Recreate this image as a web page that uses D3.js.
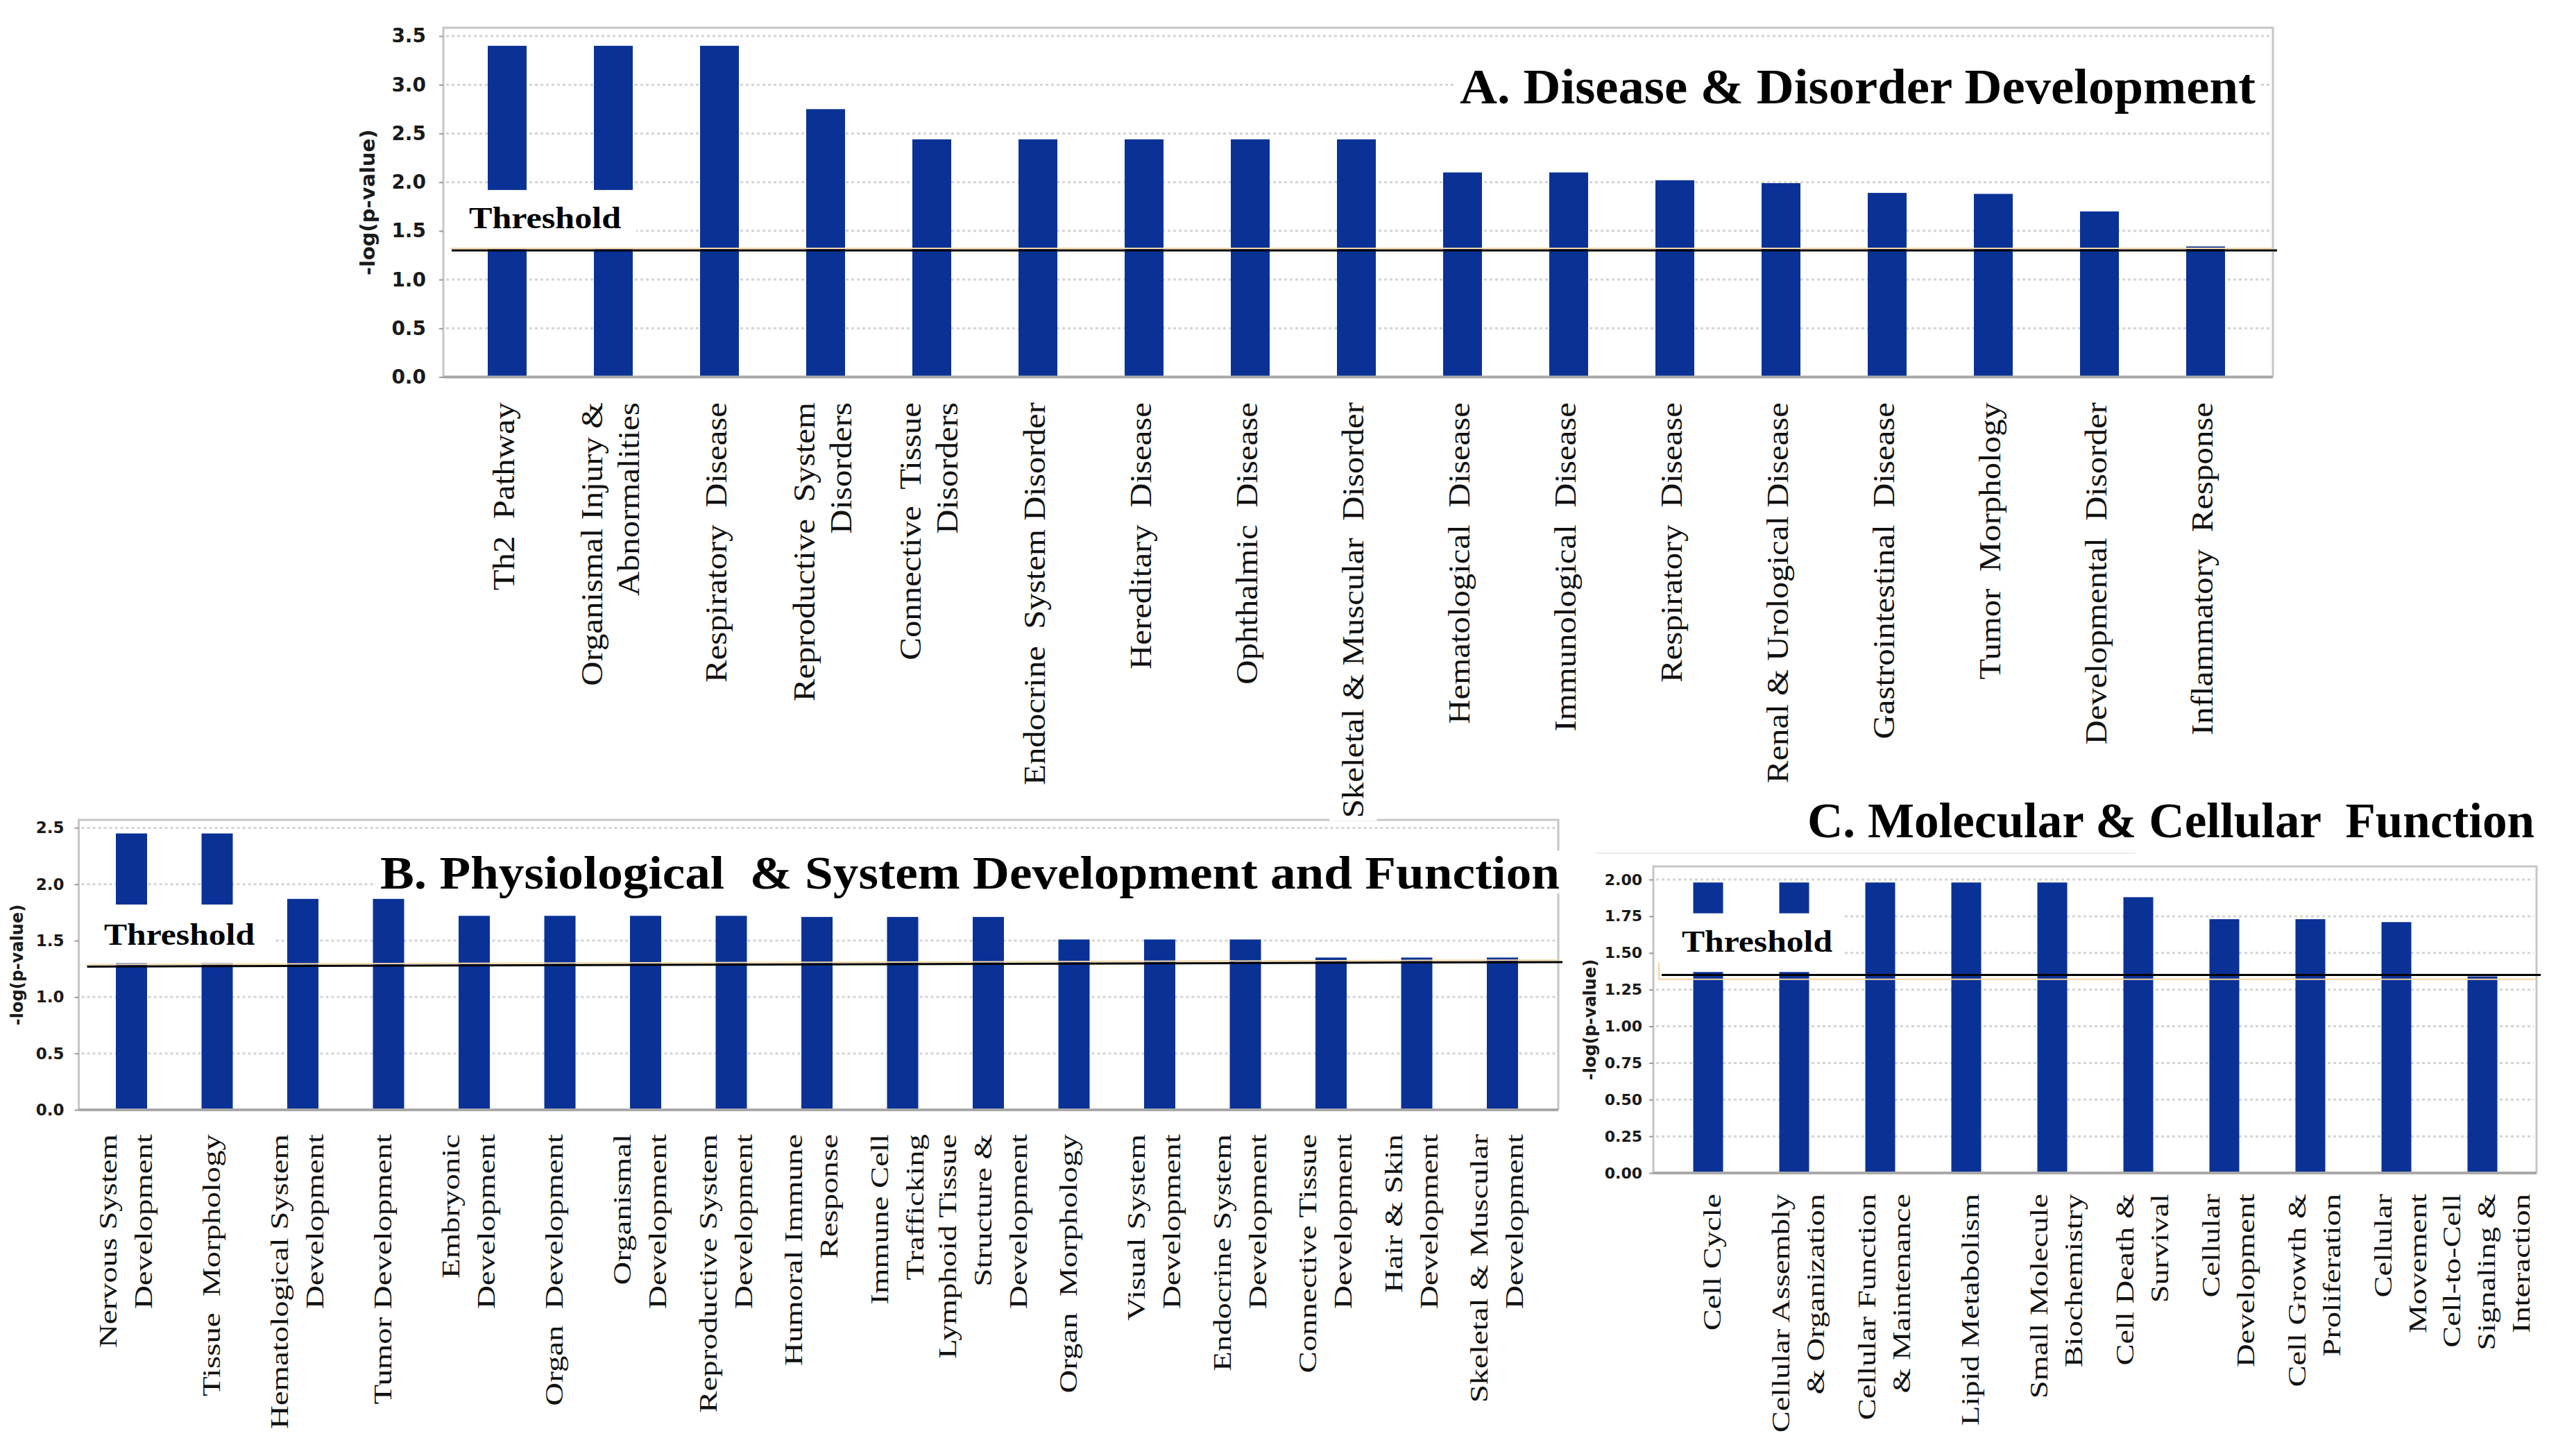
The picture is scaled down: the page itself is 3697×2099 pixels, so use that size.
<!DOCTYPE html>
<html>
<head>
<meta charset="utf-8">
<script src="https://cdn.jsdelivr.net/npm/d3@7"></script>
<style>
  body { margin: 0; background: #fff; }
</style>
</head>
<body>
<svg id="chart"></svg>
<script>
// A. Disease & Disorder Development
const catsA = [
  ['Th2  Pathway'], ['Organismal Injury &', 'Abnormalities'], ['Respiratory  Disease'],
  ['Reproductive  System', 'Disorders'], ['Connective  Tissue', 'Disorders'], ['Endocrine  System Disorder'],
  ['Hereditary  Disease'], ['Ophthalmic  Disease'], ['Skeletal & Muscular  Disorder'],
  ['Hematological  Disease'], ['Immunological  Disease'], ['Respiratory  Disease'],
  ['Renal & Urological Disease'], ['Gastrointestinal  Disease'], ['Tumor  Morphology'],
  ['Developmental  Disorder'], ['Inflammatory  Response']
]
const valsA = [3.40, 3.40, 3.40, 2.75, 2.44, 2.44, 2.44, 2.44, 2.44, 2.10, 2.10, 2.02, 1.99, 1.89, 1.88, 1.70, 1.34]
const ticksA = [0, 0.5, 1.0, 1.5, 2.0, 2.5, 3.0, 3.5]
const thrA = [1.30, 1.30]
const boxA = [1.31, 1.92]

// B. Physiological & System Development and Function
const catsB = [
  ['Nervous System', 'Development'], ['Tissue  Morphology'], ['Hematological System', 'Development'],
  ['Tumor Development'], ['Embryonic', 'Development'], ['Organ  Development'],
  ['Organismal', 'Development'], ['Reproductive System', 'Development'], ['Humoral Immune', 'Response'],
  ['Immune Cell', 'Trafficking'], ['Lymphoid Tissue', 'Structure &', 'Development'], ['Organ  Morphology'],
  ['Visual System', 'Development'], ['Endocrine System', 'Development'], ['Connective Tissue', 'Development'],
  ['Hair & Skin', 'Development'], ['Skeletal & Muscular', 'Development']
]
const valsB = [2.45, 2.45, 1.87, 1.87, 1.72, 1.72, 1.72, 1.72, 1.71, 1.71, 1.71, 1.51, 1.51, 1.51, 1.35, 1.35, 1.35]
const ticksB = [0, 0.5, 1.0, 1.5, 2.0, 2.5]
const thrB = [1.27, 1.31]
const boxB = [1.30, 1.82]

// C. Molecular & Cellular Function
const catsC = [
  ['Cell Cycle'], ['Cellular Assembly', '& Organization'], ['Cellular Function', '& Maintenance'],
  ['Lipid Metabolism'], ['Small Molecule', 'Biochemistry'], ['Cell Death &', 'Survival'],
  ['Cellular', 'Development'], ['Cell Growth &', 'Proliferation'], ['Cellular', 'Movement'],
  ['Cell-to-Cell', 'Signaling &', 'Interaction']
]
const valsC = [1.98, 1.98, 1.98, 1.98, 1.98, 1.88, 1.73, 1.73, 1.71, 1.34]
const ticksC = [0, 0.25, 0.5, 0.75, 1.0, 1.25, 1.5, 1.75, 2.0]
const thrC = [1.35, 1.35]
const orangeC = 1.32
const boxC = [1.37, 1.77]

const titles = {
  A: 'A. Disease & Disorder Development',
  B: 'B. Physiological  & System Development and Function',
  C: 'C. Molecular & Cellular  Function'
}

const W = 3697, H = 2099
const barColor = '#0a3296'
const serif = '"Liberation Serif", "Times New Roman", serif'
const sans = '"DejaVu Sans", Tahoma, sans-serif'

const svg = d3.select('#chart').attr('width', W).attr('height', H)
svg.append('rect').attr('width', W).attr('height', H).attr('fill', '#fff')

// layout of each panel (pixels)
const panels = {
  A: {
    cats: catsA, vals: valsA, ticks: ticksA, fmt: '.1f', thr: thrA, box: boxA,
    frame: { l: 639, t: 40, r: 3276 }, yZero: 543.5, yTop: 52, band: [654.5, 3255.5], barW: 56,
    tickFont: 28, tickGap: 25, yLab: { x: 540, size: 29 },
    title: { x: 2104, y: 149, size: 72, len: 1147 },
    thrText: { x: 676, y: 329, size: 44, len: 219 }, boxRight: 917,
    label: { top: 580, size: 44, sx: 1.11, lh: 53, dx: 10 }
  },
  B: {
    cats: catsB, vals: valsB, ticks: ticksB, fmt: '.1f', thr: thrB, box: boxB,
    frame: { l: 113.5, t: 1182, r: 2246 }, yZero: 1600, yTop: 1193.4, band: [127.75, 2227.25], barW: 45,
    tickFont: 23, tickGap: 21, yLab: { x: 33, size: 24 },
    title: { x: 548, y: 1281, size: 68, len: 1700 },
    thrText: { x: 150, y: 1362, size: 44, len: 217 }, boxRight: 395,
    label: { top: 1635, size: 36, sx: 1.3, lh: 51, dx: 4 }
  },
  C: {
    cats: catsC, vals: valsC, ticks: ticksC, fmt: '.2f', thr: thrC, box: boxC,
    frame: { l: 2383, t: 1249, r: 3656 }, yZero: 1691, yTop: 1268, band: [2400, 3640], barW: 43,
    tickFont: 22, tickGap: 16, yLab: { x: 2300, size: 24 },
    title: { x: 2605, y: 1207, size: 72, len: 1048 },
    thrText: { x: 2424, y: 1372, size: 44, len: 217 }, boxRight: 2657,
    label: { top: 1721, size: 36, sx: 1.29, lh: 50, dx: 18 }
  }
}

function drawPanel(key) {
  const p = panels[key]
  const g = svg.append('g').attr('class', 'panel-' + key)
  const n = p.cats.length
  const step = (p.band[1] - p.band[0]) / n
  const pad = 1 - p.barW / step

  const x = d3.scaleBand()
    .domain(d3.range(n))
    .range(p.band)
    .paddingInner(pad)
    .paddingOuter(pad / 2)
  const yMax = p.ticks[p.ticks.length - 1]
  const y = d3.scaleLinear().domain([0, yMax]).range([p.yZero, p.yTop])

  // dotted grid
  g.append('g').selectAll('line')
    .data(p.ticks.filter(t => t > 0))
    .join('line')
    .attr('x1', p.frame.l + 4).attr('x2', p.frame.r - 4)
    .attr('y1', d => y(d)).attr('y2', d => y(d))
    .attr('stroke', '#d4d4d4').attr('stroke-width', 3)
    .attr('stroke-dasharray', '4,4')

  // frame
  g.append('path')
    .attr('d', `M${p.frame.l},${p.yZero}V${p.frame.t}H${p.frame.r}V${p.yZero}`)
    .attr('fill', 'none').attr('stroke', '#c6c6c6').attr('stroke-width', 3)

  // title background + title
  const tt = g.append('text')
    .attr('x', p.title.x).attr('y', p.title.y)
    .attr('font-family', serif).attr('font-weight', 'bold')
    .attr('font-size', p.title.size)
    .attr('textLength', p.title.len).attr('lengthAdjust', 'spacingAndGlyphs')
    .attr('fill', '#000')
    .style('white-space', 'pre')
    .text(titles[key])
  const tb = tt.node().getBBox()
  g.insert('rect', () => tt.node())
    .attr('x', tb.x - 6).attr('y', tb.y + 6)
    .attr('width', tb.width + 12).attr('height', tb.height - 14)
    .attr('fill', '#fff')

  // bars
  g.append('g').selectAll('rect')
    .data(p.vals)
    .join('rect')
    .attr('x', (d, i) => x(i))
    .attr('width', x.bandwidth())
    .attr('y', d => y(d))
    .attr('height', d => p.yZero - y(d))
    .attr('fill', barColor)

  // bottom axis line
  g.append('line')
    .attr('x1', p.frame.l).attr('x2', p.frame.r)
    .attr('y1', p.yZero).attr('y2', p.yZero)
    .attr('stroke', '#a8a8a8').attr('stroke-width', 4)

  // white box for the threshold label
  g.append('rect')
    .attr('x', p.frame.l + 2)
    .attr('y', y(p.box[1]))
    .attr('width', p.boxRight - p.frame.l - 2)
    .attr('height', y(p.box[0]) - y(p.box[1]))
    .attr('fill', '#fff')

  // threshold line
  if (key === 'C') {
    g.append('path')
      .attr('d', `M${p.frame.l + 8},${y(1.43)}V${y(orangeC)}H${p.frame.r}`)
      .attr('fill', 'none').attr('stroke', '#f6d39c').attr('stroke-width', 2)
  } else {
    g.append('line')
      .attr('x1', p.frame.l + 10).attr('x2', p.frame.r)
      .attr('y1', y(p.thr[0]) - 3).attr('y2', y(p.thr[1]) - 3)
      .attr('stroke', '#f5d9a8').attr('stroke-width', 2)
  }
  g.append('line')
    .attr('x1', p.frame.l + 12).attr('x2', p.frame.r + 6)
    .attr('y1', y(p.thr[0])).attr('y2', y(p.thr[1]))
    .attr('stroke', '#000').attr('stroke-width', 3)

  g.append('text')
    .attr('x', p.thrText.x).attr('y', p.thrText.y)
    .attr('font-family', serif).attr('font-weight', 'bold')
    .attr('font-size', p.thrText.size)
    .attr('textLength', p.thrText.len).attr('lengthAdjust', 'spacingAndGlyphs')
    .text('Threshold')

  // y axis
  const ax = g.append('g')
    .attr('transform', `translate(${p.frame.l},0)`)
    .call(d3.axisLeft(y).tickValues(p.ticks).tickFormat(d3.format(p.fmt))
      .tickSize(6).tickPadding(p.tickGap - 6))
  ax.select('.domain').remove()
  ax.selectAll('.tick line').attr('stroke', '#9a9a9a').attr('stroke-width', 2)
  ax.selectAll('.tick text')
    .attr('font-family', sans).attr('font-weight', 'bold')
    .attr('font-size', p.tickFont).attr('fill', '#1a1a1a')

  g.append('text')
    .attr('transform', `translate(${p.yLab.x},${(p.yZero + p.frame.t) / 2}) rotate(-90)`)
    .attr('text-anchor', 'middle')
    .attr('font-family', sans).attr('font-weight', 'bold')
    .attr('font-size', p.yLab.size).attr('fill', '#1a1a1a')
    .text('-log(p-value)')

  // category labels, rotated, end-aligned under the axis
  const L = p.label
  const lab = g.append('g').selectAll('g')
    .data(p.cats)
    .join('g')
    .attr('transform', (d, i) => `translate(${x(i) + x.bandwidth() / 2},${L.top})`)
  lab.each(function (lines) {
    const k = lines.length
    d3.select(this).selectAll('text')
      .data(lines)
      .join('text')
      .attr('transform', (t, j) =>
        `translate(${(j - (k - 1) / 2) * L.lh + L.dx},0) rotate(-90) scale(${L.sx},1)`)
      .attr('text-anchor', 'end')
      .attr('font-family', serif)
      .attr('font-size', L.size)
      .attr('fill', '#111')
      .style('white-space', 'pre')
      .text(t => t)
  })
  return lab
}

drawPanel('B')
drawPanel('C')
// faint remnant rule above panel C
svg.append('line')
  .attr('x1', 2300).attr('x2', 3078).attr('y1', 1230).attr('y2', 1230)
  .attr('stroke', '#ececec').attr('stroke-width', 2)
const labA = drawPanel('A')
// panel A labels sit on white so they cut through panel B's frame
labA.each(function () {
  const b = this.getBBox()
  d3.select(this).insert('rect', ':first-child')
    .attr('x', b.x - 10).attr('y', b.y - 4)
    .attr('width', b.width + 20).attr('height', b.height + 8)
    .attr('fill', '#fff')
})
</script>
</body>
</html>
